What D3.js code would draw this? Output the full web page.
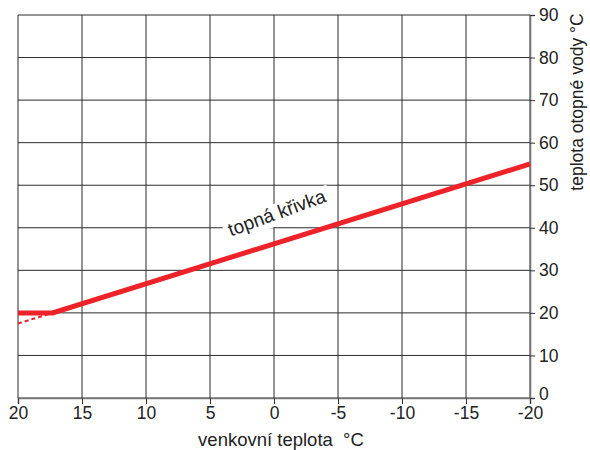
<!DOCTYPE html>
<html>
<head>
<meta charset="utf-8">
<script src="https://cdn.jsdelivr.net/npm/d3@7/dist/d3.min.js"></script>
<style>
  html, body { margin: 0; padding: 0; background: #fff; }
  svg { display: block; font-family: "Liberation Sans", Arial, sans-serif; }
</style>
</head>
<body>
<svg id="chart" width="590" height="450"></svg>
<script>
// Outdoor temperature ticks (°C), heating-water ticks (°C)
const outdoorTicks = [20, 15, 10, 5, 0, -5, -10, -15, -20];
const waterTicks = [0, 10, 20, 30, 40, 50, 60, 70, 80, 90];

// Heating curve: flat limit, then rising line
const curveOutdoor = [20, 17.3, -20];
const curveWater = [20, 20, 55];

// Dashed continuation of the sloped part toward 20 °C
const dashOutdoor = [20, 17.3];
const dashWater = [17.5, 20];

const svg = d3.select("#chart");
const plotLeft = 18, plotRight = 530, plotTop = 15, plotBottom = 398;

const x = d3.scaleLinear().domain([20, -20]).range([plotLeft, plotRight]);
const y = d3.scaleLinear().domain([0, 90]).range([plotBottom, plotTop]);

// Grid
const grid = svg.append("g").attr("stroke", "#2b2b2b").attr("stroke-width", 1);
grid.selectAll("line.v").data(outdoorTicks).join("line").attr("class", "v")
  .attr("x1", d => x(d)).attr("x2", d => x(d))
  .attr("y1", plotTop).attr("y2", plotBottom);
grid.selectAll("line.h").data(waterTicks).join("line").attr("class", "h")
  .attr("x1", plotLeft).attr("x2", plotRight)
  .attr("y1", d => y(d)).attr("y2", d => y(d));

// Bottom axis
const xAxis = d3.axisBottom(x).tickValues(outdoorTicks).tickSize(6).tickPadding(3)
  .tickFormat(d => String(d));
const gx = svg.append("g").attr("transform", `translate(0,${plotBottom})`).call(xAxis);
gx.select(".domain").attr("stroke", "#777").attr("stroke-width", 1.6);
gx.selectAll(".tick line").attr("stroke", "#333");
gx.selectAll("text").attr("font-size", 17.5).attr("fill", "#222")
  .attr("font-family", "Liberation Sans, Arial, sans-serif");

// Right axis
const yAxis = d3.axisRight(y).tickValues(waterTicks).tickSize(5).tickPadding(4);
const gy = svg.append("g").attr("transform", `translate(${plotRight},0)`).call(yAxis);
gy.select(".domain").attr("stroke", "#777").attr("stroke-width", 1.6);
gy.selectAll(".tick line").attr("stroke", "#333");
gy.selectAll("text").attr("font-size", 17.5).attr("fill", "#222")
  .attr("font-family", "Liberation Sans, Arial, sans-serif");
// lift the bottom "0" clear of the corner label below it
gy.selectAll(".tick").filter(d => d === 0).select("text").attr("y", -4);

// Axis titles
svg.append("text")
  .attr("x", 281).attr("y", 446)
  .attr("text-anchor", "middle").attr("font-size", 18.5).attr("fill", "#222")
  .style("white-space", "pre")
  .text("venkovní teplota  °C");
svg.append("text")
  .attr("transform", "translate(583,102) rotate(-90)")
  .attr("text-anchor", "middle").attr("font-size", 17.5).attr("fill", "#222")
  .text("teplota otopné vody °C");

// Curve label with white backing
const labelG = svg.append("g")
  .attr("transform", "translate(279,219) rotate(-20)");
labelG.append("rect")
  .attr("x", -56).attr("y", -16).attr("width", 112).attr("height", 22)
  .attr("fill", "#fff");
labelG.append("text")
  .attr("text-anchor", "middle").attr("y", 0)
  .attr("font-size", 19).attr("fill", "#222")
  .text("topná křivka");

// Curves
const line = d3.line().x(d => x(d[0])).y(d => y(d[1]));
svg.append("path")
  .datum(dashOutdoor.map((v, i) => [v, dashWater[i]]))
  .attr("d", line).attr("fill", "none")
  .attr("stroke", "#ee2229").attr("stroke-width", 2)
  .attr("stroke-dasharray", "4,3");
svg.append("path")
  .datum(curveOutdoor.map((v, i) => [v, curveWater[i]]))
  .attr("d", line).attr("fill", "none")
  .attr("stroke", "#ee2229").attr("stroke-width", 5)
  .attr("stroke-linejoin", "miter");
</script>
</body>
</html>
